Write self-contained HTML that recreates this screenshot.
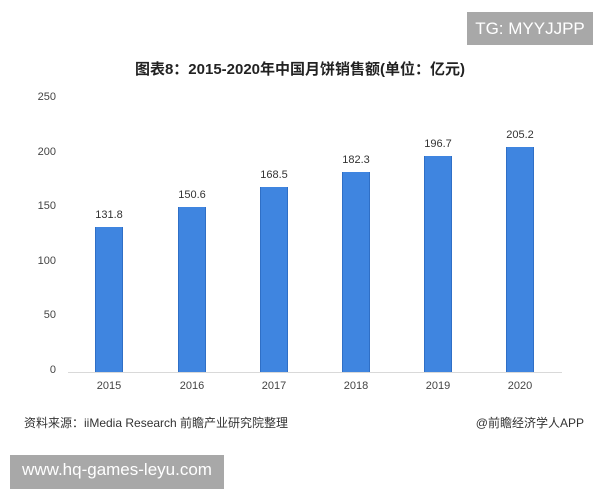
<!DOCTYPE html>
<html><head><meta charset="utf-8"><style>
body{margin:0;width:600px;height:480px;background:#fff;position:relative;overflow:hidden;font-family:"Liberation Sans","Noto Sans CJK SC",sans-serif}
.a{position:absolute}
.bar{position:absolute;width:26px;background:#3f85e0;border-left:1px solid #2f6fc6;border-right:1px solid #2f6fc6}
.v{position:absolute;width:60px;text-align:center;font-size:11px;color:#333}
.y{position:absolute;left:20px;width:36px;text-align:right;font-size:11px;color:#444}
.x{position:absolute;top:380px;width:60px;text-align:center;font-size:11px;color:#444}
</style></head><body>
<div class="a" style="left:467px;top:12px;width:126px;height:33px;background:#a8a8a8;color:#fff;font-size:17px;line-height:33px;text-align:center">TG: MYYJJPP</div>
<div class="a" style="left:0;width:600px;top:58px;text-align:center;font-size:15px;font-weight:bold;color:#222">图表8：2015-2020年中国月饼销售额(单位：亿元)</div>
<div class="y" style="top:91px">250</div>
<div class="y" style="top:146px">200</div>
<div class="y" style="top:200px">150</div>
<div class="y" style="top:255px">100</div>
<div class="y" style="top:309px">50</div>
<div class="y" style="top:364px">0</div>
<div class="a" style="left:68px;top:372px;width:494px;height:1px;background:#d9d9d9"></div>
<div class="bar" style="left:95px;top:227px;height:145px"></div>
<div class="bar" style="left:178px;top:207px;height:165px"></div>
<div class="bar" style="left:260px;top:187px;height:185px"></div>
<div class="bar" style="left:342px;top:172px;height:200px"></div>
<div class="bar" style="left:424px;top:156px;height:216px"></div>
<div class="bar" style="left:506px;top:147px;height:225px"></div>
<div class="v" style="left:79px;top:209px">131.8</div>
<div class="v" style="left:162px;top:189px">150.6</div>
<div class="v" style="left:244px;top:169px">168.5</div>
<div class="v" style="left:326px;top:154px">182.3</div>
<div class="v" style="left:408px;top:138px">196.7</div>
<div class="v" style="left:490px;top:129px">205.2</div>
<div class="x" style="left:79px">2015</div>
<div class="x" style="left:162px">2016</div>
<div class="x" style="left:244px">2017</div>
<div class="x" style="left:326px">2018</div>
<div class="x" style="left:408px">2019</div>
<div class="x" style="left:490px">2020</div>
<div class="a" style="left:24px;top:414px;font-size:12px;color:#333">资料来源：iiMedia Research 前瞻产业研究院整理</div>
<div class="a" style="right:16px;top:414px;font-size:12px;color:#333">@前瞻经济学人APP</div>
<div class="a" style="left:10px;top:455px;width:214px;height:34px;background:#a8a8a8;color:#fff;font-size:17px;line-height:30px;text-align:center">www.hq-games-leyu.com</div>
</body></html>
